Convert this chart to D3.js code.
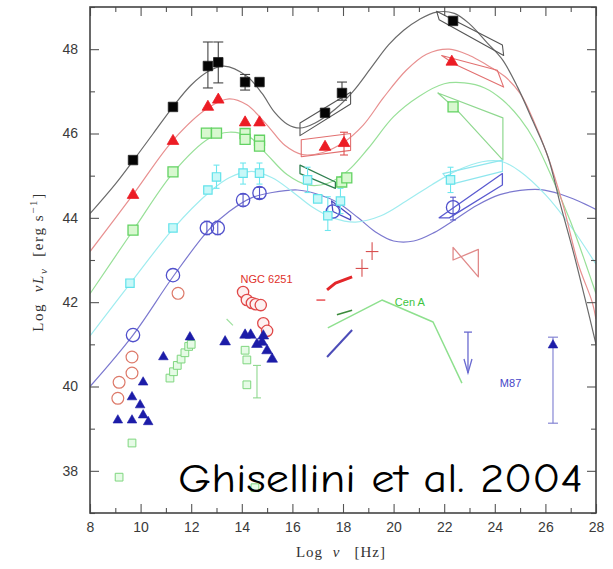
<!DOCTYPE html>
<html>
<head>
<meta charset="utf-8">
<script src="https://cdn.jsdelivr.net/npm/d3@7"></script>
<style>
  body { margin: 0; background: #fff; }
  svg { display: block; }
</style>
</head>
<body>
<svg id="chart" width="613" height="569"></svg>
<script>
// ---- axis ticks ----
const xMajorTicks = [8, 10, 12, 14, 16, 18, 20, 22, 24, 26, 28];
const xMinorTicks = [9, 11, 13, 15, 17, 19, 21, 23, 25, 27];
const yMajorTicks = [38, 40, 42, 44, 46, 48];
const yMinorTicks = [37, 39, 41, 43, 45, 47, 49];

// ---- blazar sequence model curves [log nu, log nuL_nu] ----
const modelBlack = [[8,44.1],[9,44.8],[9.7,45.35],[10.5,46.0],[11.3,46.65],[12,47.15],[12.7,47.48],[13.3,47.6],[14.2,47.36],[14.8,46.95],[15.3,46.5],[15.8,46.22],[16.3,46.13],[16.9,46.25],[17.7,46.58],[18.4,47.0],[19.1,47.55],[19.8,48.1],[20.4,48.45],[21.0,48.7],[21.7,48.88],[22.4,48.85],[23.0,48.6],[23.7,48.15],[24.3,47.75],[24.9,47.1],[25.5,46.3],[26.1,45.45],[26.6,44.3],[27.1,43.2],[27.6,42.0],[28,41.0]];
const modelRed = [[8,43.2],[9.7,44.55],[11.3,45.85],[12.7,46.62],[13.5,46.82],[14.2,46.68],[15.0,46.2],[15.7,45.72],[16.4,45.5],[17.2,45.55],[18.0,45.78],[18.8,46.2],[19.6,46.85],[20.5,47.5],[21.3,47.88],[22.2,48.0],[23.0,47.85],[23.7,47.62],[24.4,47.35],[25.0,46.95],[25.5,46.35],[26.1,45.45],[26.7,44.3],[27.3,42.9],[27.85,42.0],[28,41.6]];
const modelGreen = [[8,42.2],[9.7,43.7],[11.3,45.08],[12.7,45.88],[13.5,46.03],[14.3,45.92],[15.0,45.5],[15.8,45.02],[16.6,44.78],[17.4,44.82],[18.2,45.12],[19.0,45.65],[20.0,46.4],[21.0,46.88],[22.0,47.18],[22.8,47.2],[23.6,47.08],[24.3,46.8],[25.0,46.35],[25.6,45.8],[26.3,44.9],[27.0,43.9],[27.6,42.9],[28,42.2]];
const modelCyan = [[8,41.2],[9.6,42.45],[11.3,43.75],[12.7,44.6],[13.5,44.95],[14.4,45.1],[15.2,44.95],[16.0,44.62],[16.8,44.25],[17.6,44.0],[18.5,43.9],[19.5,44.05],[20.5,44.4],[21.5,44.78],[22.5,45.12],[23.5,45.33],[24.3,45.33],[25.0,45.1],[26.0,44.55],[27.0,43.8],[28,42.9]];
const modelBlue = [[8,40.0],[9.7,41.22],[11.3,42.62],[12.7,43.72],[13.5,44.15],[14.4,44.48],[15.2,44.6],[16.2,44.66],[17.0,44.56],[17.8,44.36],[18.6,44.0],[19.3,43.66],[20.0,43.45],[20.8,43.45],[21.6,43.65],[22.4,43.95],[23.3,44.3],[24.2,44.55],[25.0,44.65],[25.8,44.67],[26.6,44.56],[27.3,44.4],[28,44.2]];

// ---- blazar bins: data points ----
const pointsBlack = [[9.7,45.37],[11.28,46.63],[12.66,47.6],[13.07,47.69],[14.13,47.22],[14.7,47.22],[17.29,46.49],[17.96,46.96],[22.35,48.67]];
const errBlack = [[12.66,47.08,48.17],[13.07,47.2,48.17],[14.13,47.03,47.4],[17.96,46.79,47.22]];
const pointsRed = [[9.7,44.54],[11.28,45.82],[12.66,46.63],[13.07,46.8],[14.13,46.26],[14.7,46.26],[17.29,45.68],[18.04,45.77],[22.3,47.7]];
const errRed = [[18.04,45.49,46.03]];
const pointsGreen = [[9.7,43.71],[11.28,45.09],[12.6,46.01],[13.0,46.01],[14.13,46.0],[14.13,45.86],[14.7,45.84],[14.7,45.7],[17.95,44.85],[18.15,44.95],[22.35,46.63]];
const pointsCyan = [[9.58,42.45],[11.28,43.76],[12.66,44.66],[13.0,44.97],[14.05,45.06],[14.7,45.06],[16.6,44.9],[17.0,44.45],[17.4,44.05],[17.9,44.4],[22.25,44.9]];
const errCyan = [[13.0,44.7,45.25],[14.05,44.8,45.3],[14.7,44.8,45.3],[16.6,44.6,45.2],[17.4,43.7,44.5],[17.9,44.1,44.7],[22.25,44.6,45.2]];
const pointsBlue = [[9.7,41.22],[11.28,42.64],[12.62,43.76],[13.05,43.76],[14.05,44.42],[14.7,44.59],[17.6,44.15],[22.35,44.25]];
const errBlue = [[22.35,43.95,44.49],[12.62,43.6,43.92],[13.05,43.6,43.92],[14.05,44.28,44.56],[14.7,44.46,44.72]];

// X-ray and gamma-ray spectral ranges
const xrayBlack = [[16.3,46.25],[18.3,46.98],[18.3,46.7],[16.3,45.95]];
const xrayRed = [[16.35,45.85],[18.3,46.0],[18.3,45.6],[16.35,45.45]];
const xrayGreen = [[16.3,45.25],[17.7,44.85],[17.7,44.7],[16.3,45.05]];
const xrayBlue = [[17.55,44.4],[18.3,44.05],[18.3,43.95],[17.6,44.15]];
const gammaBlack = [[21.7,48.9],[24.3,48.1],[24.35,47.85],[21.8,48.7]];
const gammaRed = [[21.9,47.85],[24.1,47.5],[24.35,47.1],[22.4,47.65]];
const gammaGreen = [[21.75,46.96],[24.32,46.37],[24.32,45.37],[22.5,46.56]];
const gammaCyan = [[21.95,45.05],[24.3,45.37],[24.3,45.1],[22.3,44.8]];
const gammaBlue = [[21.8,44.0],[24.3,45.05],[24.3,44.78],[22.2,44.0]];

// ---- NGC 6251 ----
const ngcRadio = [[9.15,40.1],[9.1,39.72],[9.66,40.32],[9.66,40.7],[11.48,42.21]];
const ngcOptical = [[14.05,42.24],[14.2,42.05],[14.4,41.98],[14.55,41.95],[14.75,41.93],[14.85,41.5],[15.0,41.32]];
const ngcXray = [[17.37,42.29],[17.7,42.45],[18.36,42.6]];
const ngcXrayShort = [[16.95,42.05],[17.3,42.05]];
const ngcCrosses = [[18.75,42.8],[19.15,43.2]];
const ngcGamma = [[22.35,43.3],[23.35,42.6],[23.35,43.25],[22.35,43.0]];

// ---- Cen A ----
const cenRadio = [[9.15,37.85],[9.66,38.66],[11.16,40.2],[11.3,40.35],[11.45,40.5],[11.6,40.65],[11.75,40.8],[11.9,40.95],[12.0,41.0]];
const cenOptical = [[14.13,40.86],[14.2,40.63],[14.2,40.04],[14.52,37.6]];
const errCen = [[14.6,39.73,40.5]];
const cenHigh = [[17.4,41.39],[19.54,42.05],[21.56,41.53],[22.7,40.08]];
const cenXray = [[17.76,41.7],[18.36,41.81]];
const cenIR = [[13.4,41.6],[13.65,41.45]];

// ---- M87 ----
const m87Radio = [[9.1,39.2],[9.66,39.2],[9.66,39.75],[9.98,39.56],[10.1,40.1],[10.1,39.32],[10.3,39.16],[10.9,40.7],[11.95,41.17]];
const m87Optical = [[13.34,41.06],[14.13,41.22],[14.35,41.22],[14.6,41.0],[14.8,41.05],[14.85,41.2],[15.0,40.85],[15.2,40.65]];
const m87Xray = [[17.37,40.7],[18.36,41.34]];
const m87Limit = [[22.94,41.29,40.32]];
const m87Tev = [[26.3,40.98]];
const errM87 = [[26.3,39.13,41.17]];

const labels = [
  { text: "NGC 6251", at: [13.95, 42.45], color: "#e0302a" },
  { text: "Cen A", at: [20.05, 41.92], color: "#3ec43e" },
  { text: "M87", at: [24.2, 39.99], color: "#4545c8" }
];

// ---- layout ----
const svg = d3.select("#chart");
const x = d3.scaleLinear().domain([8, 28]).range([90, 596]);
const y = d3.scaleLinear().domain([37, 49]).range([513, 7]);

svg.append("defs").append("clipPath").attr("id", "plot")
  .append("rect").attr("x", 90).attr("y", 7).attr("width", 506).attr("height", 506);

const plot = svg.append("g").attr("clip-path", "url(#plot)");

// model curves
const curve = d3.line().x(d => x(d[0])).y(d => y(d[1])).curve(d3.curveCatmullRom.alpha(0.5));
[[modelBlue, "#7b78cf"], [modelCyan, "#9fecef"], [modelGreen, "#98e098"], [modelRed, "#e89090"], [modelBlack, "#6a6a6a"]]
  .forEach(([d, c]) => plot.append("path").datum(d).attr("d", curve)
    .attr("fill", "none").attr("stroke", c).attr("stroke-width", 1.2));

// closed outlines and polylines
const poly = d3.line().x(d => x(d[0])).y(d => y(d[1]));
function outline(d, color, w, closed) {
  plot.append("path").attr("d", poly(d) + (closed ? "Z" : ""))
    .attr("fill", "none").attr("stroke", color).attr("stroke-width", w).attr("stroke-linejoin", "round");
}
outline(xrayBlack, "#555", 1.1, true);
outline(xrayRed, "#e27070", 1.1, true);
outline(xrayGreen, "#2f7f4f", 1.3, true);
outline(xrayBlue, "#4a4ac0", 1.3, true);
outline(gammaBlack, "#555", 1.1, true);
outline(gammaRed, "#e27070", 1.1, true);
outline(gammaGreen, "#8fd88f", 1.2, true);
outline(gammaCyan, "#8ee6ee", 1.2, true);
outline(gammaBlue, "#5a5ad0", 1.3, true);
outline(ngcGamma, "#e08a8a", 1.3, true);
outline(ngcXray, "#e3262a", 3, false);
outline(ngcXrayShort, "#e3262a", 1.2, false);
outline(cenHigh, "#8ee08e", 1.5, false);
outline(cenXray, "#3a8a3a", 1.5, false);
outline(cenIR, "#9ee09e", 1.2, false);
outline(m87Xray, "#4c4cb8", 2, false);

// error bars with caps
function errorBars(d, color, cap) {
  const g = plot.append("g").attr("stroke", color).attr("stroke-width", 1.1);
  d.forEach(([nu, lo, hi]) => {
    g.append("line").attr("x1", x(nu)).attr("x2", x(nu)).attr("y1", y(lo)).attr("y2", y(hi));
    [lo, hi].forEach(v => g.append("line")
      .attr("x1", x(nu) - cap).attr("x2", x(nu) + cap).attr("y1", y(v)).attr("y2", y(v)));
  });
}
errorBars(errBlack, "#444", 5);
errorBars(errRed, "#e05050", 4);
errorBars(errCyan, "#6ee6ee", 3);
errorBars(errBlue, "#5555c8", 3);
errorBars(errCen, "#8fd88f", 4);
errorBars(errM87, "#7b7bd0", 5);

// M87 upper limit arrow
m87Limit.forEach(([nu, top, bottom]) => {
  const g = plot.append("g").attr("stroke", "#6a6ad0").attr("stroke-width", 1.3).attr("fill", "none");
  g.append("line").attr("x1", x(nu)).attr("x2", x(nu)).attr("y1", y(top)).attr("y2", y(bottom));
  g.append("line").attr("x1", x(nu) - 4).attr("x2", x(nu) + 4).attr("y1", y(top)).attr("y2", y(top));
  g.append("path").attr("d", `M${x(nu) - 4},${y(bottom) - 14}L${x(nu)},${y(bottom)}L${x(nu) + 4},${y(bottom) - 14}`);
});

// NGC 6251 crosses
ngcCrosses.forEach(([nu, l]) => {
  const g = plot.append("g").attr("stroke", "#d85050").attr("stroke-width", 1.1);
  g.append("line").attr("x1", x(nu - 0.25)).attr("x2", x(nu + 0.25)).attr("y1", y(l)).attr("y2", y(l));
  g.append("line").attr("x1", x(nu)).attr("x2", x(nu)).attr("y1", y(l - 0.2)).attr("y2", y(l + 0.22));
});

// markers
function markers(d, type, size, fill, stroke, sw) {
  plot.append("g").selectAll("path").data(d).join("path")
    .attr("transform", p => `translate(${x(p[0])},${y(p[1])})`)
    .attr("d", d3.symbol().type(type).size(size))
    .attr("fill", fill).attr("stroke", stroke).attr("stroke-width", sw);
}
markers(cenRadio, d3.symbolSquare, 60, "#e6fbe6", "#7fd67f", 1);
markers(cenOptical, d3.symbolSquare, 60, "#e6fbe6", "#7fd67f", 1);
markers(ngcRadio, d3.symbolCircle, 110, "none", "#dd7a6a", 1.2);
markers(ngcOptical, d3.symbolCircle, 100, "#fdf0f0", "#e04848", 1.3);
markers(m87Radio, d3.symbolTriangle, 40, "#1c1ca8", "#1c1ca8", 0.6);
markers(m87Optical, d3.symbolTriangle, 50, "#1c1ca8", "#1c1ca8", 0.6);
markers(m87Tev, d3.symbolTriangle, 40, "#1c1ca8", "#1c1ca8", 0.6);
markers(pointsBlue, d3.symbolCircle, 140, "none", "#5050cc", 1.3);
markers(pointsCyan, d3.symbolSquare, 70, "#c8f8f8", "#62e2ea", 1.2);
markers(pointsGreen, d3.symbolSquare, 100, "#d8f8d0", "#62d262", 1.3);
markers(pointsRed, d3.symbolTriangle, 58, "#ec1c24", "#ec1c24", 0.8);
markers(pointsBlack, d3.symbolSquare, 90, "#050505", "#222", 0.8);

// source labels
svg.append("g").selectAll("text").data(labels).join("text")
  .attr("x", l => x(l.at[0])).attr("y", l => y(l.at[1]))
  .attr("fill", l => l.color)
  .attr("font-family", "Liberation Sans, Arial, sans-serif").attr("font-size", 11)
  .text(l => l.text);

// ---- axes ----
function styleAxis(g) {
  g.select(".domain").remove();
  g.selectAll(".tick line").attr("stroke", "#555").attr("stroke-width", 1.1);
  g.selectAll("text").attr("fill", "#3a3a3a")
    .attr("font-family", "Liberation Sans, Arial, sans-serif").attr("font-size", 14);
}
svg.append("g").attr("transform", "translate(0,513)")
  .call(d3.axisBottom(x).tickValues(xMajorTicks).tickSizeInner(-9).tickSizeOuter(0).tickPadding(9).tickFormat(d3.format("d")))
  .call(styleAxis);
svg.append("g").attr("transform", "translate(0,513)")
  .call(d3.axisBottom(x).tickValues(xMinorTicks).tickSizeInner(-5).tickSizeOuter(0).tickFormat(""))
  .call(styleAxis);
svg.append("g").attr("transform", "translate(0,7)")
  .call(d3.axisTop(x).tickValues(xMajorTicks).tickSizeInner(-9).tickSizeOuter(0).tickFormat(""))
  .call(styleAxis);
svg.append("g").attr("transform", "translate(0,7)")
  .call(d3.axisTop(x).tickValues(xMinorTicks).tickSizeInner(-5).tickSizeOuter(0).tickFormat(""))
  .call(styleAxis);
svg.append("g").attr("transform", "translate(90,0)")
  .call(d3.axisLeft(y).tickValues(yMajorTicks).tickSizeInner(-9).tickSizeOuter(0).tickPadding(12).tickFormat(d3.format("d")))
  .call(styleAxis);
svg.append("g").attr("transform", "translate(90,0)")
  .call(d3.axisLeft(y).tickValues(yMinorTicks).tickSizeInner(-5).tickSizeOuter(0).tickFormat(""))
  .call(styleAxis);
svg.append("g").attr("transform", "translate(596,0)")
  .call(d3.axisRight(y).tickValues(yMajorTicks).tickSizeInner(-9).tickSizeOuter(0).tickFormat(""))
  .call(styleAxis);
svg.append("g").attr("transform", "translate(596,0)")
  .call(d3.axisRight(y).tickValues(yMinorTicks).tickSizeInner(-5).tickSizeOuter(0).tickFormat(""))
  .call(styleAxis);

svg.append("rect").attr("x", 90).attr("y", 7).attr("width", 506).attr("height", 506)
  .attr("fill", "none").attr("stroke", "#444").attr("stroke-width", 1.6);

// axis titles
const xTitle = svg.append("text").attr("x", 341).attr("y", 557).attr("text-anchor", "middle")
  .attr("font-family", "Liberation Serif, Times New Roman, serif").attr("font-size", 15)
  .attr("letter-spacing", 1).attr("fill", "#333").attr("xml:space", "preserve");
xTitle.append("tspan").text("Log  ");
xTitle.append("tspan").attr("font-style", "italic").text("ν");
xTitle.append("tspan").text("   [Hz]");

const yTitle = svg.append("text").attr("transform", "translate(43,262) rotate(-90)").attr("text-anchor", "middle")
  .attr("font-family", "Liberation Serif, Times New Roman, serif").attr("font-size", 15)
  .attr("letter-spacing", 1.6).attr("fill", "#333").attr("xml:space", "preserve");
yTitle.append("tspan").text("Log  ");
yTitle.append("tspan").attr("font-style", "italic").text("νL");
yTitle.append("tspan").attr("font-style", "italic").attr("font-size", 11).attr("dy", 4).text("ν");
yTitle.append("tspan").attr("dy", -4).text("  [erg s");
yTitle.append("tspan").attr("font-size", 11).attr("dy", -6).text("−1");
yTitle.append("tspan").attr("dy", 6).text("]");

// citation
const cite = svg.append("text").attr("x", 178).attr("y", 492)
  .attr("font-family", "Comic Sans MS, Comic Neue, Lato, sans-serif").attr("font-size", 40).attr("fill", "#000")
  .text("Ghisellini et al. 2004");
cite.attr("textLength", 405).attr("lengthAdjust", "spacingAndGlyphs");
</script>
</body>
</html>
